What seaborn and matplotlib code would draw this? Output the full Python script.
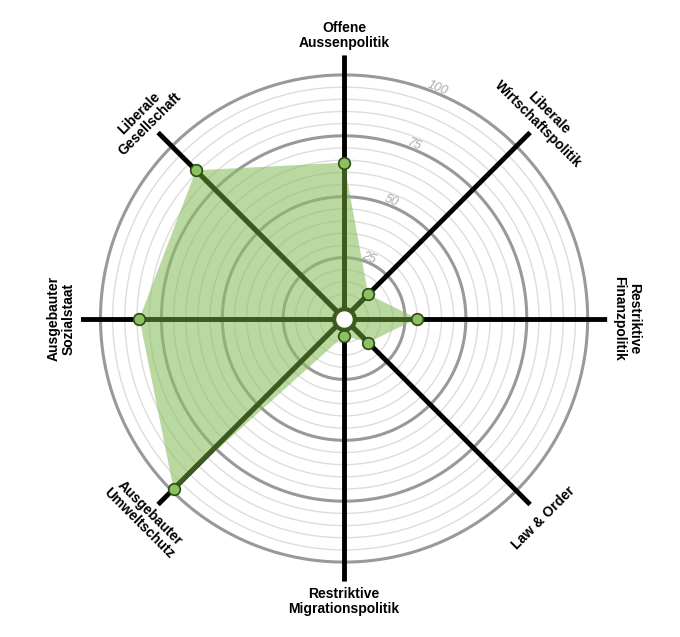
import numpy as np
import matplotlib
matplotlib.use("Agg")
import matplotlib.pyplot as plt
import seaborn as sns

sns.set_theme(style="white")
plt.rcParams['font.family'] = ['Liberation Sans', 'DejaVu Sans']

categories = ["Offene\nAussenpolitik", "Liberale\nWirtschaftspolitik", "Restriktive\nFinanzpolitik",
              "Law & Order", "Restriktive\nMigrationspolitik", "Ausgebauter\nUmweltschutz",
              "Ausgebauter\nSozialstaat", "Liberale\nGesellschaft"]
values = [64, 14, 30, 14, 7, 99, 84, 86]
ring_labels = [25, 50, 75, 100]

n = len(categories)
theta = np.deg2rad(np.arange(n) * 360 / n)

fig = plt.figure(figsize=(6.8, 6.37), dpi=100)
ax = fig.add_axes([0.506 - 0.387, 0.5 - 0.413, 0.774, 0.826], projection="polar")
ax.set_theta_zero_location("N")
ax.set_theta_direction(-1)
ax.set_ylim(0, 108)
ax.axis("off")

tt = np.linspace(0, 2 * np.pi, 400)
for r in range(5, 101, 5):
    thick = r % 25 == 0
    ax.plot(tt, np.full_like(tt, r), color="#999999" if thick else "#dddddd",
            lw=2.2 if thick else 1.0, zorder=1)

for t in theta:
    ax.plot([t, t], [0, 108], color="black", lw=3.5, zorder=2)

tc = np.append(theta, theta[0])
vc = np.append(values, values[0])
ax.fill(tc, vc, color="#8cc063", alpha=0.6, zorder=3, lw=0)
for t, v in zip(theta, values):
    ax.plot([t, t], [0, v], color="#3d5a1e", lw=3.5, zorder=4)
ax.scatter(theta, values, s=70, color="#8cc063", edgecolor="#2d4a12", lw=1.2, zorder=5)
ax.scatter([0], [0], s=220, color="white", edgecolor="#3d5a1e", lw=3, zorder=6)

for r in ring_labels:
    ax.text(np.deg2rad(22), r + 2, str(r), color="#aaaaaa", fontsize=9, style="italic",
            ha="center", va="center", rotation=-22, zorder=2)

for t, lab in zip(np.rad2deg(theta), categories):
    rot = -t if (t <= 90 or t >= 270) else 180 - t
    if t >= 270:
        rot = 360 - t
    ax.text(np.deg2rad(t), 116, lab, fontsize=10, fontweight="bold", ha="center", va="center",
            rotation=rot, rotation_mode="anchor", linespacing=1.1, color="black")

fig.savefig("out.png", dpi=100, facecolor="white")
